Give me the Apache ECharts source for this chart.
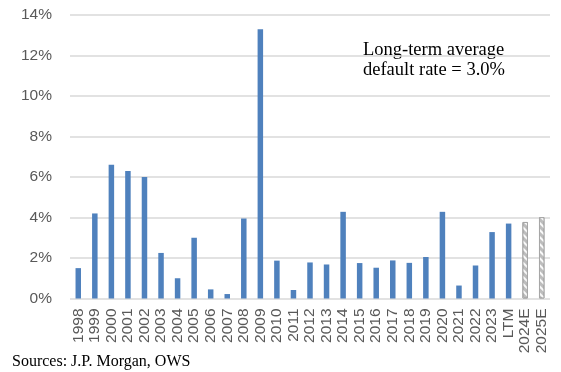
<!DOCTYPE html>
<html><head><meta charset="utf-8">
<script src="https://cdn.jsdelivr.net/npm/echarts@6/dist/echarts.min.js"></script>
<style>html,body{margin:0;padding:0;background:#fff}#c{width:561px;height:372px}</style>
</head><body><div id="c"></div>
<script>
const categories = ['1998','1999','2000','2001','2002','2003','2004','2005','2006','2007','2008','2009','2010','2011','2012','2013','2014','2015','2016','2017','2018','2019','2020','2021','2022','2023','LTM','2024E','2025E'];
const defaultRates = [1.5,4.2,6.6,6.3,6.0,2.25,1.0,3.0,0.45,0.22,3.95,13.3,1.87,0.42,1.78,1.68,4.28,1.75,1.52,1.88,1.76,2.05,4.28,0.64,1.63,3.28,3.7,3.78,4.02];
const estimateCategories = ['2024E','2025E'];
const yTicks = {min:0, max:14, interval:2};
const annotation = ['Long-term average', 'default rate = 3.0%'];
const sourceText = 'Sources: J.P. Morgan, OWS';

const chart = echarts.init(document.getElementById('c'), null, {renderer:'canvas'});
const data = defaultRates.map((v,i)=>{
  if (estimateCategories.includes(categories[i])) {
    return {value:v, itemStyle:{color:'#bdbdbd', borderColor:'#a6a6a6', borderWidth:1,
      decal:{symbol:'rect', symbolSize:1, color:'rgba(255,255,255,0.9)', dashArrayX:[[1,0]], dashArrayY:[1.5,2.5], rotation:Math.PI/4}}};
  }
  return v;
});
chart.setOption({
  animation:false,
  grid:{left:70, right:11, top:15, bottom:73.5},
  xAxis:{type:'category', data:categories,
    axisLine:{show:false}, axisTick:{show:false},
    axisLabel:{interval:0, rotate:90, fontSize:15.5, color:'#595959', fontFamily:'Liberation Sans', margin:10}},
  yAxis:{type:'value', min:yTicks.min, max:yTicks.max, interval:yTicks.interval,
    axisLine:{show:false}, axisTick:{show:false},
    axisLabel:{formatter:'{value}%', fontSize:15.5, color:'#595959', fontFamily:'Liberation Sans', margin:18},
    splitLine:{lineStyle:{color:'#d9d9d9', width:1.5}}},
  series:[{type:'bar', data:data, barWidth:5.5, itemStyle:{color:'#4f81bd'}}],
  graphic:[
    {type:'text', left:363, top:40, style:{text:annotation.join('\n'), font:'18.5px "Liberation Serif"', fill:'#000', lineHeight:20}},
    {type:'text', left:12, top:354, style:{text:sourceText, font:'16px "Liberation Serif"', fill:'#000'}}
  ]
});
</script></body></html>
